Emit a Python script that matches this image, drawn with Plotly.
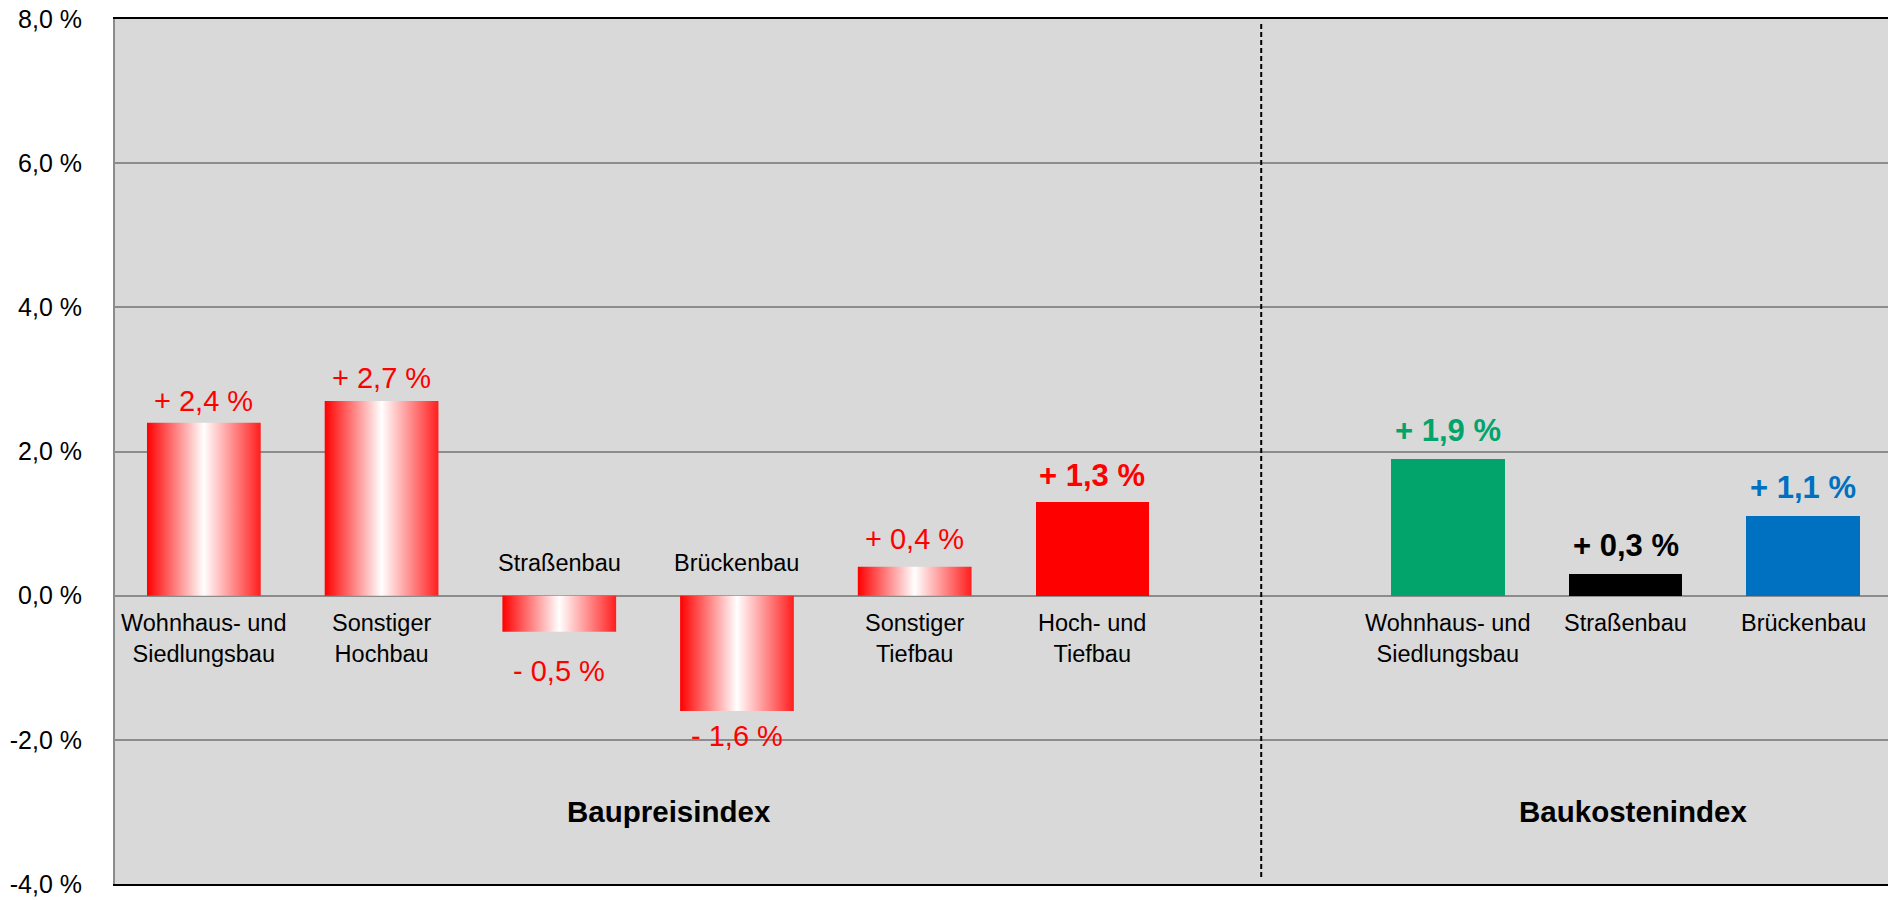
import plotly.graph_objects as go

# ---------------- data ----------------
categories = ["Wohnhaus- und<br>Siedlungsbau", "Sonstiger<br>Hochbau", "Straßenbau", "Brückenbau",
              "Sonstiger<br>Tiefbau", "Hoch- und<br>Tiefbau",
              "Wohnhaus- und<br>Siedlungsbau", "Straßenbau", "Brückenbau"]
values = [2.4, 2.7, -0.5, -1.6, 0.4, 1.3, 1.9, 0.3, 1.1]
group_titles = ["Baupreisindex", "Baukostenindex"]
tick_values = [-4, -2, 0, 2, 4, 6, 8]
tick_labels = ["-4,0 %", "-2,0 %", "0,0 %", "2,0 %", "4,0 %", "6,0 %", "8,0 %"]

# ---------------- styles ----------------
slots = [0, 1, 2, 3, 4, 5, 7, 8, 9]          # slot 6 left empty as separator
gradient = [True, True, True, True, True, False, False, False, False]
colors = ["#FF0000"] * 6 + ["#03A46C", "#000000", "#0070C0"]
bold = [False] * 5 + [True] * 4
label_gap = [22, 23, 39, 25, 28, 26, 28, 29, 29]   # px from bar end to label centre
title_pos = [(2.62, -3.0), (8.04, -3.0)]
separator_x = 5.95
bar_w = 0.64
FONT = "Liberation Sans, Arial, sans-serif"

grad_scale = [[0, "#FF0000"], [0.5, "#FFFFFF"], [1, "#FF1E1E"]]

fig = go.Figure()

for s, v, g, c in zip(slots, values, gradient, colors):
    if g:
        x0, x1 = s - bar_w / 2, s + bar_w / 2
        fig.add_trace(go.Scatter(
            x=[x0, x1, x1, x0, x0], y=[0, 0, v, v, 0],
            mode="lines", fill="toself",
            fillgradient=dict(type="horizontal", colorscale=grad_scale),
            line=dict(width=0, color="rgba(0,0,0,0)"),
            hoverinfo="skip", showlegend=False))

solid_x = [s for s, g in zip(slots, gradient) if not g]
solid_y = [v for v, g in zip(values, gradient) if not g]
solid_c = [c for c, g in zip(colors, gradient) if not g]
fig.add_trace(go.Bar(x=solid_x, y=solid_y, width=bar_w,
                     marker=dict(color=solid_c, line=dict(width=0)),
                     showlegend=False, hoverinfo="skip"))

annotations = []


def fmt(v):
    sign = "+" if v >= 0 else "-"
    return f"{sign} {abs(v):.1f} %".replace(".", ",")


for s, v, c, b, gap, cat in zip(slots, values, colors, bold, label_gap, categories):
    txt = f"<b>{fmt(v)}</b>" if b else fmt(v)
    annotations.append(dict(
        x=s, y=v, xref="x", yref="y", text=txt, showarrow=False,
        yanchor="middle", yshift=gap if v >= 0 else -gap,
        font=dict(family=FONT, size=31 if b else 29, color=c)))
    if v >= 0:
        annotations.append(dict(
            x=s, y=0, xref="x", yref="y", text=cat, showarrow=False,
            yanchor="top", yshift=-12,
            font=dict(family=FONT, size=23.5, color="#000000")))
    else:
        annotations.append(dict(
            x=s, y=0, xref="x", yref="y", text=cat, showarrow=False,
            yanchor="middle", yshift=33,
            font=dict(family=FONT, size=23.5, color="#000000")))

for t, (tx, ty) in zip(group_titles, title_pos):
    annotations.append(dict(
        x=tx, y=ty, xref="x", yref="y", text=f"<b>{t}</b>", showarrow=False,
        yanchor="middle",
        font=dict(family=FONT, size=29.5, color="#000000")))

fig.update_layout(
    width=1888, height=900,
    margin=dict(l=115, r=0, t=19, b=16, autoexpand=False),
    paper_bgcolor="#FFFFFF", plot_bgcolor="#D9D9D9",
    annotations=annotations,
    shapes=[dict(type="line", xref="x", yref="paper", x0=separator_x, x1=separator_x,
                 y0=0.008, y1=0.995, line=dict(color="#000000", width=2, dash="5px,3px"))],
    xaxis=dict(range=[-0.5, 9.477], showticklabels=False, showgrid=False, zeroline=False,
               showline=True, linecolor="#000000", linewidth=2, mirror=True, ticks="",
               automargin=False),
    yaxis=dict(range=[-4, 8], tickvals=tick_values, ticktext=tick_labels,
               showgrid=True, gridcolor="#8C8C8C", gridwidth=2,
               zeroline=True, zerolinecolor="#8C8C8C", zerolinewidth=2,
               showline=True, linecolor="#8C8C8C", linewidth=2, ticks="",
               ticklabelstandoff=26, automargin=False, ticklabeloverflow="allow",
               tickfont=dict(family=FONT, size=25, color="#000000")),
    bargap=0,
)

# remove the default 8px page margin so the 1888x900 figure fills the window exactly
fig.write_html("out.html",
               config={"displayModeBar": False},
               post_script="document.body.style.margin='0';document.body.style.overflow='hidden';")
